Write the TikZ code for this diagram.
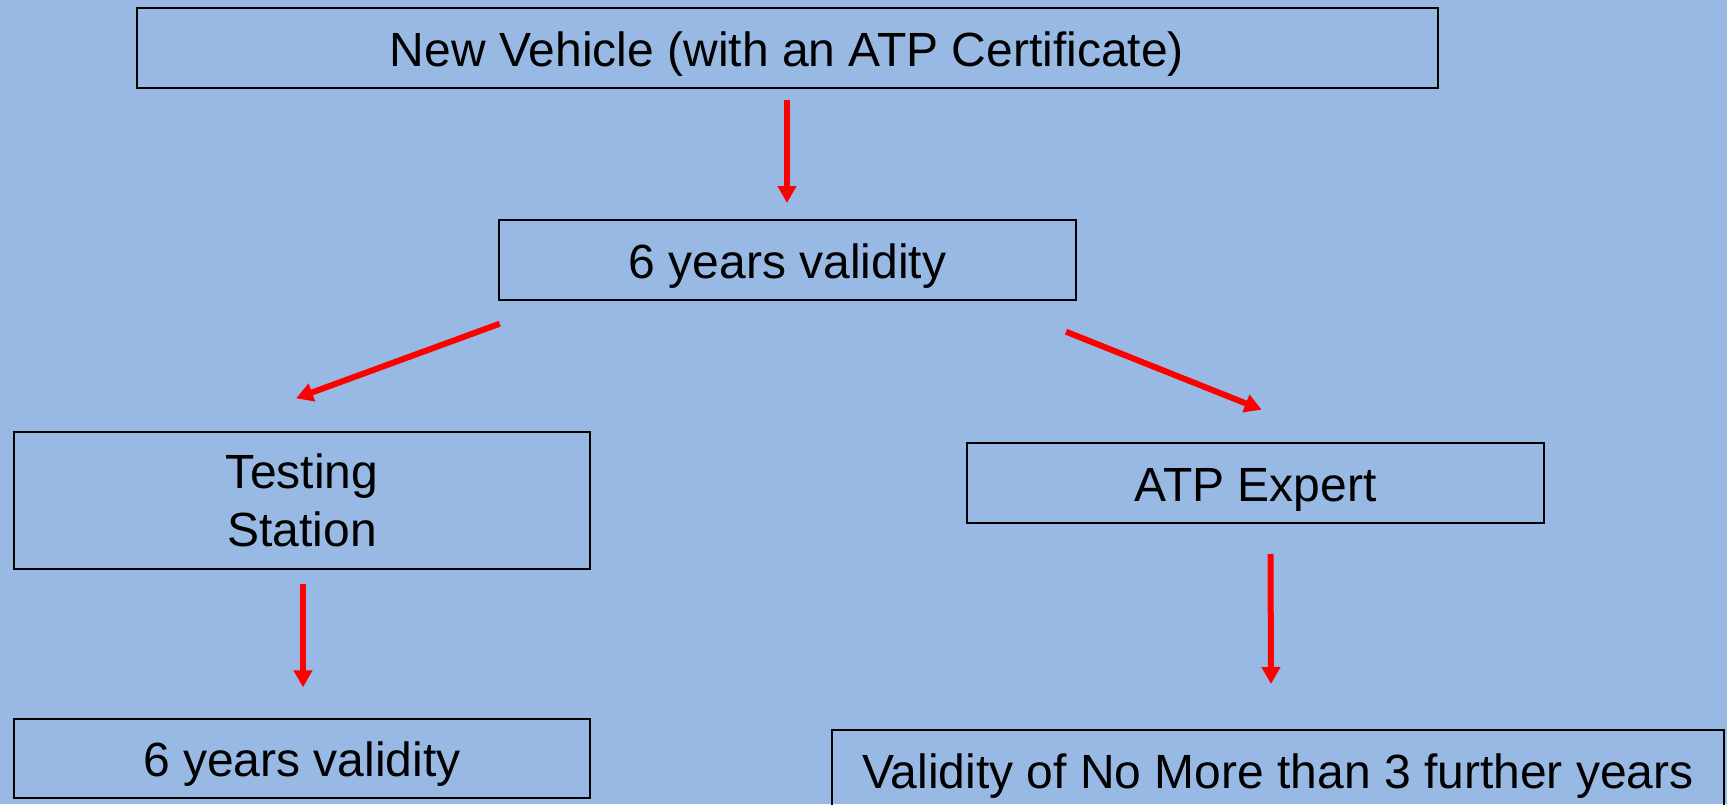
\documentclass[tikz,border=0pt]{standalone}
\usepackage{fontspec}
\setmainfont{Liberation Sans}
\usetikzlibrary{arrows.meta}
\definecolor{bgblue}{RGB}{152,185,227}
\definecolor{arrred}{RGB}{255,0,0}
\tikzset{
  boxbase/.style={draw=black, line width=1pt, inner sep=0pt, align=center,
    font=\fontsize{24}{28.7}\selectfont},
  onebox/.style={boxbase, text height=18pt, text depth=0pt, minimum height=40pt},
  redarrow/.style={draw=arrred, line width=3pt,
    -{Triangle[length=8.5pt,width=9pt]}},
}
\begin{document}
\begin{tikzpicture}[x=0.5pt,y=-0.5pt]
\fill[bgblue] (0,0) rectangle (1727,804);
\useasboundingbox (0,0) rectangle (1727,804);

\node[onebox, minimum width=650.5pt] (top) at (787,48.4) {New Vehicle (with an ATP Certificate)};
\node[onebox, minimum width=288.5pt] (mid) at (787.5,260) {6 years validity};
\node[boxbase, minimum width=288pt, minimum height=68.5pt] (test) at (302,500.5) {Testing\\Station};
\node[onebox, minimum width=288.5pt] (atp) at (1255.5,483) {ATP Expert};
\node[onebox, minimum width=288pt, minimum height=39.5pt] (bl) at (302,758.5) {6 years validity};
\node[onebox, minimum width=446pt] (br) at (1278,770) {Validity of No More than 3 further years};

\coordinate (a1s) at ([shift={(0,11)}]top.south);
\coordinate (a1e) at ([shift={(0,-16)}]mid.north -| a1s);
\coordinate (a2s) at ([shift={(1.7,22.7)}]mid.south west);
\coordinate (a2e) at ([shift={(-6,-32.7)}]test.north);
\coordinate (a3s) at ([shift={(-11,30.7)}]mid.south east);
\coordinate (a3e) at ([shift={(6.2,-32.3)}]atp.north);
\coordinate (a4s) at ([shift={(1,14.3)}]test.south);
\coordinate (a4e) at ([shift={(1,-30.7)}]bl.north);
\coordinate (a5s) at ([shift={(15,30)}]atp.south);
\coordinate (a5e) at ([shift={(-7,-45)}]br.north);

\draw[redarrow] (a1s) -- (a1e);
\draw[redarrow] (a2s) -- (a2e);
\draw[redarrow] (a3s) -- (a3e);
\draw[redarrow] (a4s) -- (a4e);
\draw[redarrow] (a5s) -- (a5e);
\end{tikzpicture}
\end{document}
